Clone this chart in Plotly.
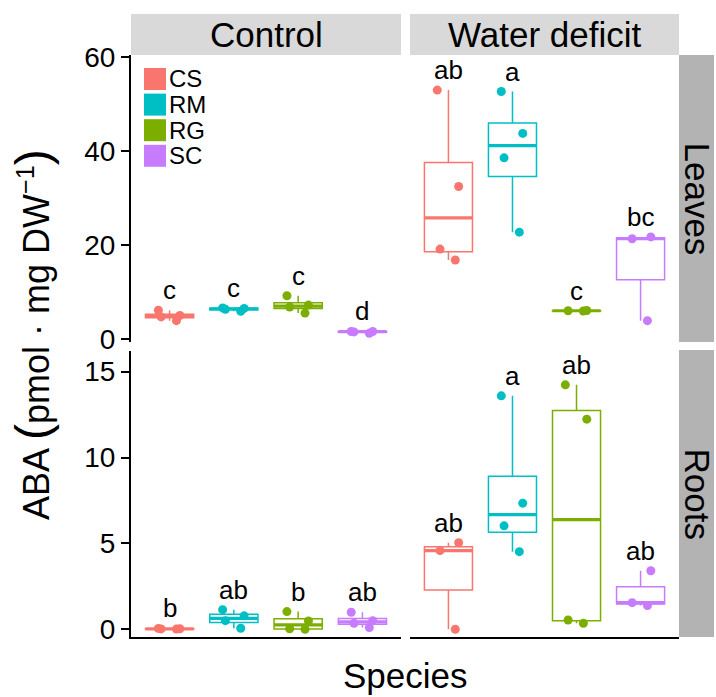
import numpy as np
import plotly.graph_objects as go

# ---------------- data ----------------
species = ["CS", "RM", "RG", "SC"]
colors = ["#F8766D", "#00BFC4", "#7CAE00", "#C77CFF"]

leaves_control = [
    [3.9, 4.7, 5.0, 6.1],
    [5.9, 6.3, 6.5, 6.6],
    [5.5, 6.8, 7.2, 9.2],
    [1.2, 1.5, 1.6, 1.6],
]
leaves_deficit = [
    [16.8, 19.1, 32.4, 52.9],
    [22.7, 38.5, 43.7, 52.6],
    [5.95, 6.0, 6.05],
    [3.9, 21.3, 21.7],
]
roots_control = [
    [0.01, 0.02, 0.03, 0.05],
    [0.06, 0.50, 0.78, 1.14],
    [0.00, 0.03, 0.48, 1.03],
    [0.10, 0.35, 0.50, 0.99],
]
roots_deficit = [
    [0.0, 4.58, 5.04],
    [4.52, 6.02, 7.34, 13.59],
    [0.35, 0.54, 12.23, 14.23],
    [1.38, 1.55, 3.41],
]

leaves_control_letters = ["c", "c", "c", "d"]
leaves_deficit_letters = ["ab", "a", "c", "bc"]
roots_control_letters = ["b", "ab", "b", "ab"]
roots_deficit_letters = ["ab", "a", "ab", "ab"]

conditions = ["Control", "Water deficit"]
tissues = ["Leaves", "Roots"]
leaves_ticks = [0, 20, 40, 60]
roots_ticks = [0, 5, 10, 15]

# ---------------- layout helpers ----------------
W, H = 716, 697
FONT = "Liberation Sans, Arial, Helvetica, sans-serif"


def fx(p):
    return p / W


def fy(p):
    return 1 - p / H


X_LEFT = [fx(131), fx(401)]
X_RIGHT = [fx(410), fx(679)]
Y_TOP = [fy(342), fy(55)]
Y_BOT = [fy(637), fy(351)]

fig = go.Figure()
annotations = []
shapes = []

panels = [
    (leaves_control, leaves_control_letters, "x", "y"),
    (leaves_deficit, leaves_deficit_letters, "x2", "y2"),
    (roots_control, roots_control_letters, "x3", "y3"),
    (roots_deficit, roots_deficit_letters, "x4", "y4"),
]

BOX_W = 0.75
for data, letters, xa, ya in panels:
    for i, (vals, col, let) in enumerate(zip(data, colors, letters)):
        v = np.asarray(vals, dtype=float)
        q1, med, q3 = np.percentile(v, [25, 50, 75])
        iqr = q3 - q1
        lf = v[v >= q1 - 1.5 * iqr].min()
        uf = v[v <= q3 + 1.5 * iqr].max()
        # box with ggplot-style (type 7) statistics
        fig.add_trace(go.Box(
            x=[i], q1=[q1], median=[med], q3=[q3],
            lowerfence=[lf], upperfence=[uf],
            width=BOX_W, whiskerwidth=0, boxpoints=False,
            line=dict(color=col, width=1.5),
            fillcolor="rgba(0,0,0,0)",
            xaxis=xa, yaxis=ya, showlegend=False, hoverinfo="skip",
        ))
        # thicker median line
        fig.add_trace(go.Scatter(
            x=[i - BOX_W / 2, i + BOX_W / 2], y=[med, med], mode="lines",
            line=dict(color=col, width=3.2),
            xaxis=xa, yaxis=ya, showlegend=False, hoverinfo="skip",
        ))
        # jittered points
        fig.add_trace(go.Box(
            x=[i] * len(v), y=v, boxpoints="all", jitter=0.55, pointpos=0,
            width=BOX_W, line=dict(width=0, color=col),
            fillcolor="rgba(0,0,0,0)",
            marker=dict(color=col, size=9),
            xaxis=xa, yaxis=ya, showlegend=False, hoverinfo="skip",
        ))
        # significance letters
        annotations.append(dict(
            x=i, y=float(v.max()), xref=xa, yref=ya, text=let,
            showarrow=False, yshift=20, yanchor="middle",
            font=dict(family=FONT, size=26, color="black"),
        ))

xcommon = dict(range=[-0.6, 3.6], showticklabels=False, ticks="",
               showgrid=False, zeroline=False, fixedrange=True, automargin=False)
ycommon = dict(showgrid=False, zeroline=False, fixedrange=True, automargin=False)
axis_line = dict(showline=True, linecolor="black", linewidth=2)
tickstyle = dict(ticks="outside", ticklen=8, tickwidth=2, tickcolor="black",
                 tickfont=dict(family=FONT, size=28, color="black"))

fig.update_layout(
    width=W, height=H, autosize=False,
    margin=dict(l=0, r=0, t=0, b=0, pad=0, autoexpand=False),
    paper_bgcolor="white", plot_bgcolor="white",
    showlegend=False,
    xaxis=dict(domain=X_LEFT, anchor="y", **xcommon, showline=False),
    xaxis2=dict(domain=X_RIGHT, anchor="y2", **xcommon, showline=False),
    xaxis3=dict(domain=X_LEFT, anchor="y3", **xcommon, **axis_line),
    xaxis4=dict(domain=X_RIGHT, anchor="y4", **xcommon, **axis_line),
    yaxis=dict(domain=Y_TOP, anchor="x", range=[-0.64, 60.36],
               tickvals=leaves_ticks, **tickstyle, **ycommon, **axis_line),
    yaxis2=dict(domain=Y_TOP, anchor="x2", range=[-0.64, 60.36],
                showticklabels=False, showline=False, **ycommon),
    yaxis3=dict(domain=Y_BOT, anchor="x3", range=[-0.45, 16.2],
                tickvals=roots_ticks, **tickstyle, **ycommon, **axis_line),
    yaxis4=dict(domain=Y_BOT, anchor="x4", range=[-0.45, 16.2],
                showticklabels=False, showline=False, **ycommon),
)

# ---------------- facet strips ----------------
for (x0, x1), lab in zip([(131, 401), (410, 679)], conditions):
    shapes.append(dict(type="rect", xref="paper", yref="paper",
                       x0=fx(x0), x1=fx(x1), y0=fy(55), y1=fy(14),
                       fillcolor="#D9D9D9", line=dict(width=0), layer="below"))
    annotations.append(dict(x=fx((x0 + x1) / 2), y=fy(35), xref="paper", yref="paper",
                            text=lab, showarrow=False, xanchor="center", yanchor="middle",
                            font=dict(family=FONT, size=35, color="black")))
for (y0, y1), lab in zip([(55, 342), (350, 637)], tissues):
    shapes.append(dict(type="rect", xref="paper", yref="paper",
                       x0=fx(679), x1=fx(714), y0=fy(y1), y1=fy(y0),
                       fillcolor="#B3B3B3", line=dict(width=0), layer="below"))
    annotations.append(dict(x=fx(697), y=fy((y0 + y1) / 2), xref="paper", yref="paper",
                            text=lab, showarrow=False, textangle=90,
                            xanchor="center", yanchor="middle",
                            font=dict(family=FONT, size=35, color="black")))

# ---------------- legend (inside top-left panel) ----------------
for k, (sp, col) in enumerate(zip(species, colors)):
    top = 68 + k * 25.6
    shapes.append(dict(type="rect", xref="paper", yref="paper",
                       x0=fx(144), x1=fx(166), y0=fy(top + 22), y1=fy(top),
                       fillcolor=col, line=dict(width=0)))
    annotations.append(dict(x=fx(167), y=fy(top + 11), xref="paper", yref="paper",
                            text=sp, showarrow=False, xanchor="left", yanchor="middle",
                            font=dict(family=FONT, size=24, color="black")))

# ---------------- axis titles ----------------
annotations.append(dict(x=fx(405), y=fy(697), xref="paper", yref="paper",
                        text="Species", showarrow=False, xanchor="center", yanchor="bottom",
                        font=dict(family=FONT, size=35, color="black")))
annotations.append(dict(
    x=fx(32), y=fy(335), xref="paper", yref="paper",
    text="ABA <span style='font-size:48px'>(</span>pmol · mg DW<sup>−1</sup>"
         "<span style='font-size:48px'>)</span>",
    showarrow=False, textangle=-90, xanchor="center", yanchor="middle",
    font=dict(family=FONT, size=36, color="black")))

fig.update_layout(annotations=annotations, shapes=shapes)
fig.write_html("out.html")
